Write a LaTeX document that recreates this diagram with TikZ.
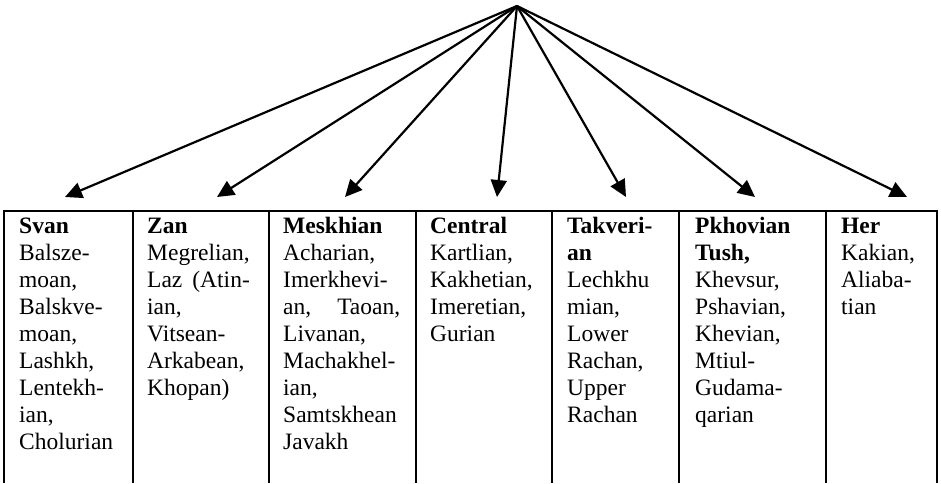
\documentclass[tikz,border=0pt]{standalone}
\usepackage{fontspec}
\setmainfont{Liberation Serif}
\usetikzlibrary{arrows.meta}

\begin{document}
\begin{tikzpicture}[x=1pt,y=-1pt]
    \tikzset{cell/.style = {anchor=north west, inner sep=0pt, align=left, font=\fontsize{23.5}{27}\selectfont}}
    \tikzset{bigarrow/.style = {-{Triangle[length=17pt,width=16pt]}, line width=2.2pt}}
    \tikzset{rule/.style = {line width=2pt}}
    \useasboundingbox (0,0) rectangle (941,483);

    \coordinate (root) at (517,6);
    \coordinate (svantip) at (65,197);
    \coordinate (zantip) at (217,197);
    \coordinate (meskhtip) at (345,197);
    \coordinate (centraltip) at (497,197);
    \coordinate (takvtip) at (626,197);
    \coordinate (pkhovtip) at (755,197);
    \coordinate (hertip) at (907,197);

    % table
    \draw[rule] (4,483) -- (4,211) -- (937,211) -- (937,483);
    \foreach \x in {133,269,416,552,679,826}
        \draw[rule] (\x,211) -- (\x,483);

    \node[cell, text width=99pt] (svan) at (19,214) {\strut\textbf{Svan}\\Balsze-\\moan,\\Balskve-\\moan,\\Lashkh,\\Lentekh-\\ian,\\Cholurian};
    \node[cell, text width=106pt] (zan) at (147,214) {\strut\textbf{Zan}\\Megrelian,\\Laz\hspace{10pt}(Atin-\\ian,\\Vitsean-\\Arkabean,\\Khopan)};
    \node[cell, text width=117pt] (meskh) at (283,214) {\strut\textbf{Meskhian}\\Acharian,\\Imerkhevi-\\an,\hfill Taoan,\\Livanan,\\Machakhel-\\ian,\\Samtskhean\\Javakh};
    \node[cell, text width=106pt] (central) at (430,214) {\strut\textbf{Central}\\Kartlian,\\Kakhetian,\\Imeretian,\\Gurian};
    \node[cell, text width=97pt] (takv) at (567,214) {\strut\textbf{Takveri-}\\\textbf{an}\\Lechkhu\\mian,\\Lower\\Rachan,\\Upper\\Rachan};
    \node[cell, text width=117pt] (pkhov) at (695,214) {\strut\textbf{Pkhovian}\\\textbf{Tush,}\\Khevsur,\\Pshavian,\\Khevian,\\Mtiul-\\Gudama-\\qarian};
    \node[cell, text width=81pt] (her) at (841,214) {\strut\textbf{Her}\\Kakian,\\Aliaba-\\tian};

    % arrows
    \draw[bigarrow] (root) -- (svantip);
    \draw[bigarrow] (root) -- (zantip);
    \draw[bigarrow] (root) -- (meskhtip);
    \draw[bigarrow] (root) -- (centraltip);
    \draw[bigarrow] (root) -- (takvtip);
    \draw[bigarrow] (root) -- (pkhovtip);
    \draw[bigarrow] (root) -- (hertip);

\end{tikzpicture}
\end{document}
